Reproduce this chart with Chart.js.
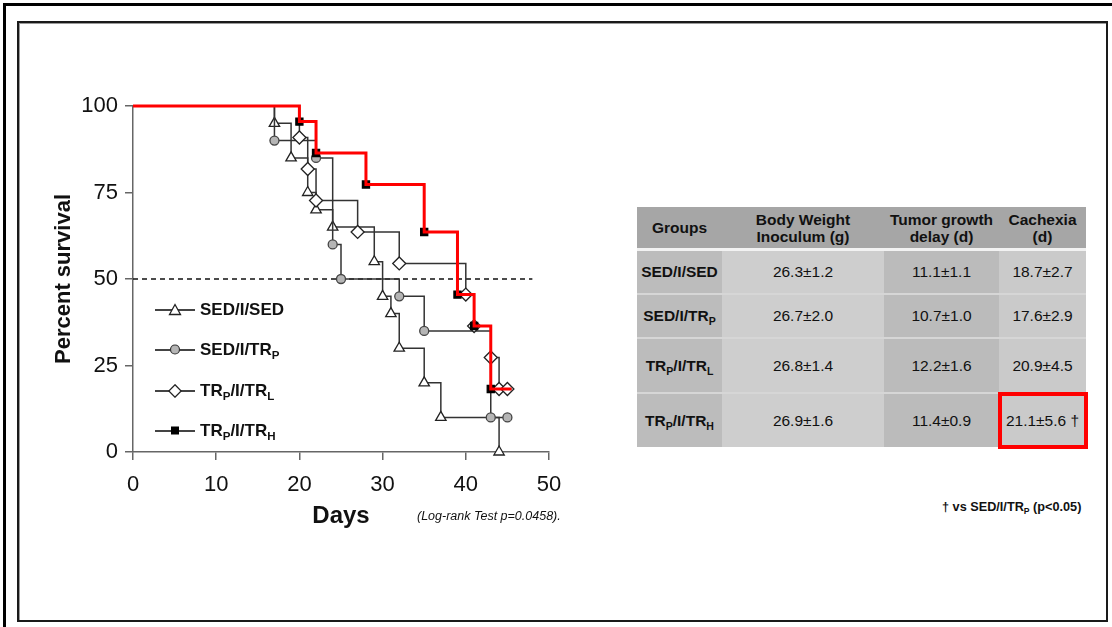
<!DOCTYPE html>
<html>
<head>
<meta charset="utf-8">
<script src="https://cdn.jsdelivr.net/npm/chart.js@4.4.0/dist/chart.umd.min.js"></script>
<style>
  body { margin: 0; width: 1112px; height: 627px; position: relative; background: #fff; overflow: hidden;
         font-family: 'Liberation Sans', Arial, sans-serif; color: #111; }
  #topbar { position: absolute; left: 3px; top: 3px; width: 1109px; height: 3px; background: #000; }
  #leftbar { position: absolute; left: 3px; top: 3px; width: 3px; height: 624px; background: #000; }
  #frame { position: absolute; left: 17px; top: 21px; width: 1091px; height: 601px; box-sizing: border-box;
           border: 2px solid #1a1a1a; box-shadow: inset 1px 1px 0 #9a9a9a; }
  #chartBox { position: absolute; left: 20px; top: 60px; width: 560px; height: 480px; }
  sub { font-size: 0.68em; vertical-align: -0.35em; line-height: 0; }
  #legend { position: absolute; left: 155px; top: 290px; }
  .row { position: absolute; left: 0; height: 20px; width: 160px; }
  .row .ln { position: absolute; left: 0; top: 9px; width: 40px; height: 1.5px; background: #444; }
  .row svg { position: absolute; left: 13px; top: 3px; }
  .row .tx { position: absolute; left: 45px; top: 0; font-weight: bold; font-size: 17px; line-height: 20px; white-space: nowrap; }
  #logrank { position: absolute; left: 417px; top: 509px; font-style: italic; font-size: 12.5px; }
  #note { position: absolute; left: 942px; top: 500px; font-weight: bold; font-size: 12.7px; white-space: nowrap; }
  #tbl { position: absolute; left: 637px; top: 207px; border-collapse: collapse; table-layout: fixed; width: 449px; }
  #tbl td, #tbl th { padding: 0; text-align: center; font-size: 15.5px; line-height: 17px; }
  #tbl th { background: #a6a6a6; font-weight: bold; height: 41px; border-bottom: 3px solid #f2f2f2; }
  #tbl td { border-top: 2px solid #d6d6d6; }
  #tbl td.g { font-weight: bold; background: #bcbcbc; }
  #tbl td.c2 { background: #cecece; }
  #tbl td.c3 { background: #bbbbbb; }
  #tbl td.c4 { background: #cacaca; }
  #redbox { position: absolute; left: 998px; top: 392px; width: 90px; height: 57px; box-sizing: border-box; border: 4px solid #ff0000; }
</style>
</head>
<body>
<div id="topbar"></div>
<div id="leftbar"></div>
<div id="frame"></div>
<div id="chartBox"><canvas id="km"></canvas></div>
<div id="legend"></div>
<div id="logrank">(Log-rank Test p=0.0458).</div>
<table id="tbl"></table>
<div id="redbox"></div>
<div id="note">† vs SED/I/TR<sub>P</sub> (p&lt;0.05)</div>

<script>
// groups
const groups = ['SED/I/SED', 'SED/I/TRP', 'TRP/I/TRL', 'TRP/I/TRH'];

// Kaplan-Meier steps (day, percent survival)
const sedDays = [0, 17, 19, 21, 22, 24, 29, 30, 31, 32, 35, 37, 44];
const sedSurv = [100, 95, 85, 75, 70, 65, 55, 45, 40, 30, 20, 10, 0];
const trpDays = [0, 17, 22, 24, 25, 32, 35, 43, 45];
const trpSurv = [100, 90, 85, 60, 50, 45, 35, 10, 10];
const trlDays = [0, 20, 21, 22, 27, 32, 40, 41, 43, 44, 45];
const trlSurv = [100, 90.9, 81.8, 72.7, 63.6, 54.5, 45.5, 36.4, 27.3, 18.2, 18.2];
const trhDays = [0, 20, 22, 28, 35, 39, 41, 43, 45.5];
const trhSurv = [100, 95.5, 86.4, 77.3, 63.6, 45.5, 36.4, 18.2, 18.2];

// median reference line
const medianDays = [0, 48];
const medianSurv = [50, 50];

const xTicks = [0, 10, 20, 30, 40, 50];
const yTicks = [0, 25, 50, 75, 100];

// table
const bodyWeight = ['26.3±1.2', '26.7±2.0', '26.8±1.4', '26.9±1.6'];
const tumorDelay = ['11.1±1.1', '10.7±1.0', '12.2±1.6', '11.4±0.9'];
const cachexia = ['18.7±2.7', '17.6±2.9', '20.9±4.5', '21.1±5.6 †'];

function sub(name) {
    return name.replace(/TR([PLH])/g, 'TR<sub>$1</sub>');
}

function pts(xs, ys) {
    return xs.map((x, i) => ({ x: x, y: ys[i] }));
}

// table
const colW = [85, 162, 115, 87];
const rowH = [44, 44, 55, 54];
let html = '<colgroup>' + colW.map(w => '<col style="width:' + w + 'px">').join('') + '</colgroup>';
html += '<tr><th>Groups</th><th>Body Weight<br>Inoculum (g)</th><th>Tumor growth<br>delay (d)</th><th>Cachexia<br>(d)</th></tr>';
groups.forEach((g, i) => {
    html += '<tr style="height:' + rowH[i] + 'px"><td class="g">' + sub(g) + '</td><td class="c2">' + bodyWeight[i] +
        '</td><td class="c3">' + tumorDelay[i] + '</td><td class="c4">' + cachexia[i] + '</td></tr>';
});
document.getElementById('tbl').innerHTML = html;

// legend
const legendIcons = [
    '<svg width="14" height="13"><polygon points="7,1.5 12.5,11.5 1.5,11.5" fill="#fff" stroke="#222" stroke-width="1.3"/></svg>',
    '<svg width="14" height="13"><circle cx="7" cy="6.5" r="4.5" fill="#b5b5b5" stroke="#333" stroke-width="1.2"/></svg>',
    '<svg width="14" height="14"><polygon points="7,0.8 13.2,7 7,13.2 0.8,7" fill="#fff" stroke="#222" stroke-width="1.3"/></svg>',
    '<svg width="14" height="13"><rect x="3" y="2.5" width="8" height="8" fill="#000"/></svg>'
];
const legendTops = [10, 50, 91, 131];
document.getElementById('legend').innerHTML = groups.map((g, i) =>
    '<div class="row" style="top:' + legendTops[i] + 'px"><div class="ln"></div>' + legendIcons[i] +
    '<div class="tx">' + sub(g) + '</div></div>').join('');

// chart
Chart.defaults.font.family = "'Liberation Sans', Arial, sans-serif";
Chart.defaults.color = '#111';

function hideFirst(r) {
    return ctx => ctx.dataIndex === 0 ? 0 : r;
}

const base = { stepped: true, borderColor: '#333', borderWidth: 1.5, pointBorderColor: '#222',
               pointBorderWidth: 1.3, clip: 14, pointHoverRadius: 0 };

const ctx = document.getElementById('km');
new Chart(ctx, {
    type: 'line',
    data: {
        datasets: [
            Object.assign({}, base, { label: 'TRP/I/TRH highlight', data: pts(trhDays, trhSurv), borderColor: '#ff0000',
                borderWidth: 3, pointRadius: 0, order: 0 }),
            Object.assign({}, base, { label: groups[3], data: pts(trhDays, trhSurv), pointStyle: 'rect',
                pointBackgroundColor: '#000', pointBorderColor: '#000',
                pointRadius: c => (c.dataIndex === 0 || c.dataIndex === trhDays.length - 1) ? 0 : 5, order: 1 }),
            Object.assign({}, base, { label: groups[2], data: pts(trlDays, trlSurv), pointStyle: 'rectRot',
                pointBackgroundColor: '#fff', pointRadius: hideFirst(6.5), order: 2 }),
            Object.assign({}, base, { label: groups[1], data: pts(trpDays, trpSurv), pointStyle: 'circle',
                pointBackgroundColor: '#b5b5b5', pointBorderColor: '#444', pointRadius: hideFirst(4.5), order: 3 }),
            Object.assign({}, base, { label: groups[0], data: pts(sedDays, sedSurv), pointStyle: 'triangle',
                pointBackgroundColor: '#fff', pointRadius: hideFirst(6), order: 4 }),
            { label: 'median', data: pts(medianDays, medianSurv), borderColor: '#111', borderWidth: 1.3,
              borderDash: [5, 4], pointRadius: 0, order: 5 }
        ]
    },
    options: {
        responsive: true,
        maintainAspectRatio: false,
        animation: false,
        events: [],
        layout: { padding: { top: 46, right: 31, bottom: 0, left: 0 } },
        plugins: { legend: { display: false }, tooltip: { enabled: false } },
        scales: {
            x: {
                type: 'linear', min: 0, max: 50,
                afterBuildTicks: s => { s.ticks = xTicks.map(v => ({ value: v })); },
                afterFit: s => { s.height = 88; },
                ticks: { font: { size: 22 }, padding: 12, color: '#111' },
                grid: { drawOnChartArea: false, tickLength: 8, color: '#666', lineWidth: 1.5 },
                border: { color: '#666', width: 1.5 },
                title: { display: true, text: 'Days', font: { size: 24, weight: 'bold' }, color: '#111',
                         padding: { top: 0, bottom: 9 } }
            },
            y: {
                min: 0, max: 100,
                afterBuildTicks: s => { s.ticks = yTicks.map(v => ({ value: v })); },
                afterFit: s => { s.width = 113; },
                ticks: { font: { size: 22 }, padding: 7, color: '#111' },
                grid: { drawOnChartArea: false, tickLength: 8, color: '#666', lineWidth: 1.5 },
                border: { color: '#666', width: 1.5 },
                title: { display: true, text: 'Percent survival', font: { size: 22, weight: 'bold' }, color: '#111',
                         padding: { top: 31, bottom: 0 } }
            }
        }
    }
});
</script>
</body>
</html>
